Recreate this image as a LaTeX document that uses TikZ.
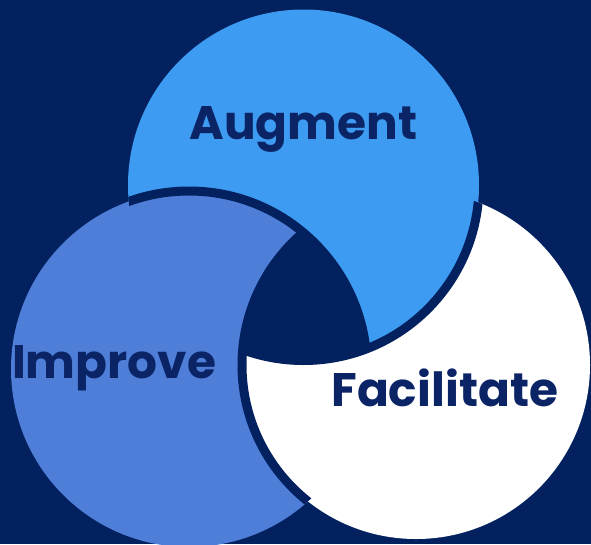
\documentclass[tikz,border=0pt]{standalone}
\usepackage{fontspec}
\setmainfont{Poppins}
\definecolor{bgnavy}{HTML}{03215F}
\definecolor{lightb}{HTML}{3D9BF1}
\definecolor{medb}{HTML}{4F7ED8}
\definecolor{txtnavy}{HTML}{0A2466}
\newcommand{\topC}{(303.5,185) circle[radius=175.5]}
\newcommand{\leftC}{(189,369) circle[radius=178]}
\newcommand{\whiteC}{(416,365) circle[radius=174]}
\begin{document}
\begin{tikzpicture}[x=1pt,y=-1pt,
  outl/.style={draw=bgnavy, line width=9pt},
  lbl/.style={font=\fontsize{47}{47}\selectfont\bfseries, text=txtnavy, anchor=base, inner sep=0pt}]
\fill[bgnavy] (0,0) rectangle (591,544);
\useasboundingbox (0,0) rectangle (591,544);
% base fills: top, then left over top
\fill[lightb] \topC;
\fill[medb] \leftC;
% white over left, everywhere outside the top circle
\begin{scope}[even odd rule]
  \clip (-20,-20) rectangle (611,564) \topC;
  \fill[white] \whiteC;
\end{scope}
% centre (triple overlap) in background colour
\begin{scope}
  \clip \leftC;
  \clip \whiteC;
  \fill[bgnavy] \topC;
\end{scope}
% outlines
\begin{scope}
  \clip \whiteC;
  \draw[outl] \topC;
\end{scope}
\begin{scope}
  \clip \topC;
  \draw[outl] \leftC;
\end{scope}
\begin{scope}
  \clip \leftC;
  \draw[outl] \whiteC;
\end{scope}
% labels
\node[lbl] (augment) at (303.3,139.3) {Augment};
\node[lbl] (improve) at (114,378) {Improve};
\node[lbl] (facilitate) at (444.7,406.7) {Facilitate};
\end{tikzpicture}
\end{document}
